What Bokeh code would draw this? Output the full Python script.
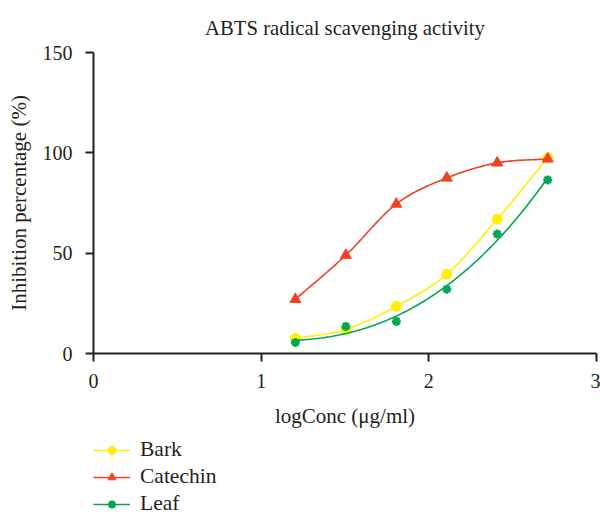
import numpy as np
from bokeh.plotting import figure
from bokeh.layouts import column
from bokeh.models import Range1d, Legend, LegendItem, FixedTicker
from bokeh.embed import file_html
from bokeh.resources import INLINE

# ---- data ----
log_conc = [1.204, 1.505, 1.806, 2.107, 2.408, 2.709]
bark = [7.5, 12.0, 23.5, 39.5, 67.0, 97.5]
catechin = [27.0, 49.0, 74.5, 87.5, 95.0, 97.0]
leaf = [5.5, 13.5, 16.0, 32.0, 59.5, 86.5]
series_names = ["Bark", "Catechin", "Leaf"]

x_ticks = [0, 1, 2, 3]
y_ticks = [0, 50, 100, 150]

FONT = "Liberation Serif"
AXIS_COL = "#231f20"
COL_BARK = "#fff000"
COL_CAT = "#ef4123"
COL_LEAF = "#00a651"

p = figure(width=600, height=430, output_backend="svg", toolbar_location=None,
           x_range=Range1d(0, 3), y_range=Range1d(0, 150),
           min_border_left=93, min_border_right=4, min_border_top=52,
           min_border_bottom=76,
           title="ABTS radical scavenging activity")
p.outline_line_color = None
p.grid.visible = False
p.background_fill_color = "white"
p.border_fill_color = "white"

p.title.align = "center"
p.title.text_font = FONT
p.title.text_font_size = "20.7px"
p.title.text_font_style = "normal"
p.title.text_color = AXIS_COL
p.title.standoff = 28

for ax in (p.xaxis[0], p.yaxis[0]):
    ax.axis_line_color = AXIS_COL
    ax.axis_line_width = 2
    ax.major_tick_line_color = AXIS_COL
    ax.major_tick_line_width = 2
    ax.minor_tick_line_color = None
    ax.major_tick_in = 0
    ax.major_tick_out = 8
    ax.major_label_text_font = FONT
    ax.major_label_text_font_size = "20px"
    ax.major_label_text_color = AXIS_COL
    ax.axis_label_text_font = FONT
    ax.axis_label_text_font_size = "21px"
    ax.axis_label_text_font_style = "normal"
    ax.axis_label_text_color = AXIS_COL

p.xaxis.ticker = FixedTicker(ticks=x_ticks)
p.yaxis.ticker = FixedTicker(ticks=y_ticks)
p.xaxis.axis_label = "logConc (μg/ml)"
p.yaxis.axis_label = "Inhibition percentage (%)"
p.xaxis.major_label_standoff = 12
p.xaxis.axis_label_standoff = 13
p.yaxis.major_label_standoff = 13
p.yaxis.axis_label_standoff = 9


def spline(xs, ys, n=24):
    # Catmull-Rom curve through the data points
    xs = np.asarray(xs, float)
    ys = np.asarray(ys, float)
    px = np.concatenate([[2 * xs[0] - xs[1]], xs, [2 * xs[-1] - xs[-2]]])
    py = np.concatenate([[2 * ys[0] - ys[1]], ys, [2 * ys[-1] - ys[-2]]])
    ox, oy = [], []
    t = np.linspace(0, 1, n, endpoint=False)
    for i in range(1, len(px) - 2):
        for arr, out in ((px, ox), (py, oy)):
            p0, p1, p2, p3 = arr[i - 1], arr[i], arr[i + 1], arr[i + 2]
            out.extend(0.5 * ((2 * p1) + (-p0 + p2) * t +
                              (2 * p0 - 5 * p1 + 4 * p2 - p3) * t ** 2 +
                              (-p0 + 3 * p1 - 3 * p2 + p3) * t ** 3))
    ox.append(xs[-1])
    oy.append(ys[-1])
    return ox, oy


def trend(xs, ys, n=120):
    # smooth cubic trend curve fitted to the series
    c = np.polyfit(xs, ys, 3)
    tx = np.linspace(xs[0], xs[-1], n)
    return tx, np.polyval(c, tx)


LW = 1.6
STYLE = {
    "Bark": dict(color=COL_BARK, marker="circle", size=10, lw=1, curve=spline),
    "Catechin": dict(color=COL_CAT, marker="triangle", size=11, lw=1, curve=spline),
    "Leaf": dict(color=COL_LEAF, marker="asterisk", size=9, lw=2.5, curve=trend),
}

for name, ys in zip(series_names, [bark, catechin, leaf]):
    st = STYLE[name]
    cxs, cys = st["curve"](log_conc, ys)
    p.line(cxs, cys, line_color=st["color"], line_width=LW)
    p.scatter(log_conc, ys, marker=st["marker"], size=st["size"],
              fill_color=st["color"], line_color=st["color"], line_width=st["lw"])

# ---- legend below the chart (separate strip) ----
lf = figure(width=600, height=84, output_backend="svg", toolbar_location=None,
            x_range=Range1d(0, 1), y_range=Range1d(0, 1),
            x_axis_type=None, y_axis_type=None,
            min_border=0, min_border_left=0, min_border_right=0,
            min_border_top=0, min_border_bottom=0)
lf.outline_line_color = None
lf.grid.visible = False

NAN = [float("nan")]
items = []
for name in series_names:
    st = STYLE[name]
    r1 = lf.line(NAN, NAN, line_color=st["color"], line_width=LW)
    r2 = lf.scatter(NAN, NAN, marker=st["marker"], size=st["size"],
                    fill_color=st["color"], line_color=st["color"],
                    line_width=st["lw"])
    items.append(LegendItem(label=name, renderers=[r1, r2]))

legend = Legend(items=items, location=(0, -2), orientation="vertical")
legend.border_line_color = None
legend.background_fill_alpha = 0
legend.padding = 0
legend.margin = 0
legend.spacing = 2
legend.glyph_width = 37
legend.glyph_height = 20
legend.label_height = 20
legend.label_standoff = 10
legend.label_text_font = FONT
legend.label_text_font_size = "21.5px"
legend.label_text_color = AXIS_COL
lf.add_layout(legend, "center")

layout = column(p, lf, spacing=0)
open("out.html", "w").write(file_html(layout, INLINE))
